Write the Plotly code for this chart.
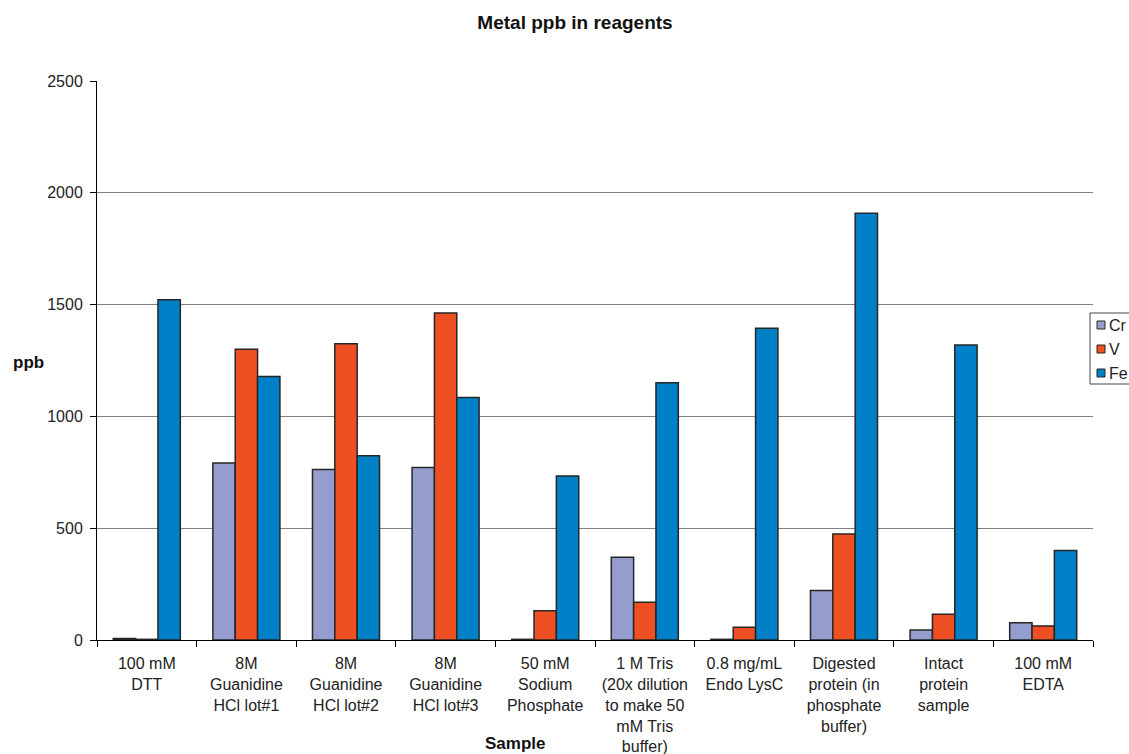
import plotly.graph_objects as go

categories = [
    "100 mM<br>DTT",
    "8M<br>Guanidine<br>HCl lot#1",
    "8M<br>Guanidine<br>HCl lot#2",
    "8M<br>Guanidine<br>HCl lot#3",
    "50 mM<br>Sodium<br>Phosphate",
    "1 M Tris<br>(20x dilution<br>to make 50<br>mM Tris<br>buffer)",
    "0.8 mg/mL<br>Endo LysC",
    "Digested<br>protein (in<br>phosphate<br>buffer)",
    "Intact<br>protein<br>sample",
    "100 mM<br>EDTA",
]
cr = [7, 792, 763, 772, 3, 370, 3, 221, 45, 77]
v = [3, 1300, 1325, 1462, 131, 169, 57, 474, 115, 63]
fe = [1522, 1178, 824, 1084, 734, 1150, 1394, 1908, 1319, 400]

series = [("Cr", cr, "#959DCF"), ("V", v, "#EF5023"), ("Fe", fe, "#0080C6")]

fig = go.Figure()
for name, vals, col in series:
    fig.add_trace(go.Bar(
        x=categories, y=vals, name=name, showlegend=False,
        marker=dict(color=col, line=dict(color="#262626", width=1.5)),
    ))

font_family = "Liberation Sans, Arial, sans-serif"
W, H = 1129, 754
L, R, T, B = 97, 1093, 81, 640


def px(xp):
    return (xp - L) / (R - L)


def py(yp):
    return (B - yp) / (B - T)


# Legend drawn as a compact box (clipped at right edge as in the reference)
shapes = [dict(type="rect", xref="paper", yref="paper",
               x0=px(1090), x1=px(1135), y0=py(384), y1=py(313),
               line=dict(color="#444444", width=1), fillcolor="white", layer="above")]
annotations = []
for i, (name, vals, col) in enumerate(series):
    yc = 325 + i * 24
    shapes.append(dict(type="rect", xref="paper", yref="paper",
                       x0=px(1097), x1=px(1105), y0=py(yc + 4), y1=py(yc - 4),
                       line=dict(color="#262626", width=1), fillcolor=col, layer="above"))
    annotations.append(dict(text=name, xref="paper", yref="paper",
                            x=px(1107), y=py(yc), showarrow=False,
                            xanchor="left", yanchor="middle",
                            font=dict(size=16, color="#222222")))

annotations += [
    dict(text="<b>ppb</b>", xref="paper", yref="paper",
         x=px(28), y=py(362),
         showarrow=False, font=dict(size=17, color="#111111"),
         xanchor="center", yanchor="middle"),
    dict(text="<b>Sample</b>", xref="paper", yref="paper",
         x=px(515), y=py(743),
         showarrow=False, font=dict(size=17, color="#111111"),
         xanchor="center", yanchor="middle"),
]

fig.update_layout(
    width=W, height=H,
    margin=dict(l=L, r=W - R, t=T, b=H - B, autoexpand=False),
    paper_bgcolor="white", plot_bgcolor="white",
    barmode="group", bargap=0.327, bargroupgap=0,
    font=dict(family=font_family, size=16, color="#222222"),
    title=dict(text="<b>Metal ppb in reagents</b>", x=575 / W, xref="container",
               xanchor="center", y=1 - 22 / H, yref="container", yanchor="middle",
               font=dict(size=19, color="#111111")),
    showlegend=False,
    xaxis=dict(
        type="category", showline=True, linecolor="black", linewidth=1,
        ticks="outside", ticklen=6, tickcolor="black", tickson="boundaries",
        tickangle=0, tickfont=dict(size=16), showgrid=False, ticklabelstandoff=9,
    ),
    yaxis=dict(
        range=[0, 2500], dtick=500, showline=True, linecolor="black", linewidth=1,
        ticks="outside", ticklen=6, tickcolor="black",
        showgrid=True, gridcolor="#808080", gridwidth=1,
        tickfont=dict(size=16), zeroline=False, ticklabelstandoff=4,
    ),
    shapes=shapes,
    annotations=annotations,
)

fig.write_html("out.html")
